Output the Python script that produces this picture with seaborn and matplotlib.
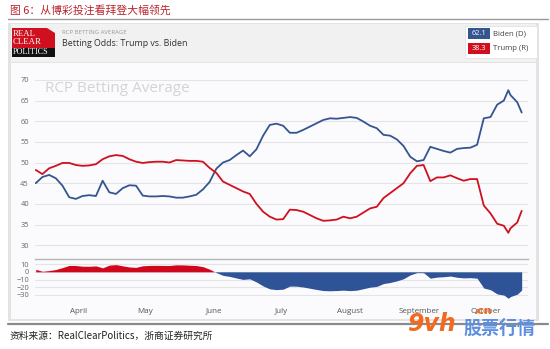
import pandas as pd
import matplotlib
matplotlib.use("Agg")
import matplotlib.pyplot as plt
from matplotlib.patches import Rectangle, Polygon
import seaborn as sns

# RCP betting average, sampled every few days (percent chance of winning)
dates = [
    "2020-03-13", "2020-03-16", "2020-03-19", "2020-03-22", "2020-03-25", "2020-03-28",
    "2020-03-31", "2020-04-03", "2020-04-06", "2020-04-09", "2020-04-12", "2020-04-15",
    "2020-04-18", "2020-04-21", "2020-04-24", "2020-04-27", "2020-04-30", "2020-05-03",
    "2020-05-06", "2020-05-09", "2020-05-12", "2020-05-15", "2020-05-18", "2020-05-21",
    "2020-05-24", "2020-05-27", "2020-05-30", "2020-06-02", "2020-06-05", "2020-06-08",
    "2020-06-11", "2020-06-14", "2020-06-17", "2020-06-20", "2020-06-23", "2020-06-26",
    "2020-06-29", "2020-07-02", "2020-07-05", "2020-07-08", "2020-07-11", "2020-07-14",
    "2020-07-17", "2020-07-20", "2020-07-23", "2020-07-26", "2020-07-29", "2020-08-01",
    "2020-08-04", "2020-08-07", "2020-08-10", "2020-08-13", "2020-08-16", "2020-08-19",
    "2020-08-22", "2020-08-25", "2020-08-28", "2020-08-31", "2020-09-03", "2020-09-06",
    "2020-09-09", "2020-09-12", "2020-09-15", "2020-09-18", "2020-09-21", "2020-09-24",
    "2020-09-27", "2020-09-30", "2020-10-03", "2020-10-06", "2020-10-09", "2020-10-11",
    "2020-10-12", "2020-10-15", "2020-10-17",
]
biden = [
    45.0, 46.5, 47.0, 46.2, 44.4, 41.6, 41.2, 41.9, 42.1, 41.9, 45.6, 42.8,
    42.4, 43.8, 44.5, 44.4, 42.0, 41.8, 41.8, 41.9, 41.8, 41.5, 41.5, 41.8,
    42.2, 43.5, 45.3, 48.5, 50.0, 50.6, 51.8, 52.9, 51.5, 53.2, 56.5, 59.1,
    59.4, 58.9, 57.2, 57.2, 57.9, 58.7, 59.5, 60.3, 60.7, 60.6, 60.8, 61.0,
    60.8, 59.9, 58.9, 58.3, 56.7, 56.5, 55.6, 54.0, 51.4, 50.3, 50.6, 53.8,
    53.3, 52.8, 52.4, 53.3, 53.5, 53.6, 54.3, 60.7, 61.0, 64.0, 65.0, 67.5,
    66.3, 64.6, 62.1,
]
trump = [
    48.2, 47.2, 48.6, 49.2, 49.9, 49.9, 49.4, 49.2, 49.3, 49.6, 50.8, 51.5,
    51.8, 51.6, 50.8, 50.2, 49.9, 50.1, 50.2, 50.2, 50.0, 50.6, 50.5, 50.4,
    50.4, 50.2, 48.7, 47.5, 45.4, 44.6, 43.8, 43.0, 42.4, 40.0, 38.1, 36.9,
    36.2, 36.3, 38.6, 38.5, 38.1, 37.3, 36.5, 35.9, 36.0, 36.2, 36.9, 36.5,
    36.9, 37.9, 38.9, 39.3, 41.4, 42.6, 43.8, 45.0, 47.4, 49.2, 49.4, 45.5,
    46.4, 46.4, 46.9, 46.2, 45.6, 46.0, 46.0, 39.6, 37.7, 35.2, 34.7, 33.0,
    34.1, 35.5, 38.3,
]
month_starts = ["2020-04-01", "2020-05-01", "2020-06-01", "2020-07-01",
                "2020-08-01", "2020-09-01", "2020-10-01"]
month_labels = ["April", "May", "June", "July", "August", "September", "October"]
main_ticks = [30, 35, 40, 45, 50, 55, 60, 65, 70]
spread_ticks = [10, 0, -10, -20, -30]

BLUE = "#34558f"
RED = "#d0101e"
AREA_BLUE = "#2e5396"
AREA_RED = "#d0071a"
GRID = "#e4e4e8"
TICK = "#666666"

df = pd.DataFrame({"date": pd.to_datetime(dates), "Biden": biden, "Trump": trump})
df["spread"] = df["Trump"] - df["Biden"]

sns.set_theme(style="white")
plt.rcParams["font.family"] = ["Open Sans", "Noto Sans CJK SC", "DejaVu Sans"]

W, H = 550, 349
fig = plt.figure(figsize=(W / 100, H / 100), dpi=100)
fig.patch.set_facecolor("white")


def fx(x):
    return x / W


def fy(y):
    return 1 - y / H


def frect(x0, y0, x1, y1, z=-5, **kw):
    fig.patches.append(Rectangle((fx(x0), fy(y1)), (x1 - x0) / W, (y1 - y0) / H,
                                 transform=fig.transFigure, zorder=z, **kw))


def ftext(x, y, s, **kw):
    fig.text(fx(x), fy(y), s, **kw)


# header title and separators
ftext(10, 10, "图 6：从博彩投注看拜登大幅领先", fontsize=7.8, color="#b8232b",
      va="center", ha="left", family=["Noto Sans CJK SC", "DejaVu Sans"])
fig.add_artist(plt.Line2D([fx(8), fx(548)], [fy(18.5), fy(18.5)], color="#9a9a9a", lw=1.0,
                          transform=fig.transFigure))
fig.add_artist(plt.Line2D([fx(8), fx(548)], [fy(324), fy(324)], color="#8a8a8a", lw=1.6,
                          transform=fig.transFigure))

# chart panel
frect(8, 23, 539, 321, z=-6, facecolor="#e3e3e3", edgecolor="none")
frect(11, 24, 536, 62, z=-5, facecolor="#f1f1f1", edgecolor="none")
frect(11, 63, 536, 319, z=-5, facecolor="#fbfbfd", edgecolor="none")

# logo
fig.patches.append(Polygon([(fx(12), fy(28)), (fx(47), fy(28)), (fx(55), fy(33)),
                            (fx(55), fy(48)), (fx(12), fy(48))],
                           closed=True, transform=fig.transFigure, facecolor="#d0101e",
                           edgecolor="none", zorder=2))
frect(12, 48, 55, 56.5, z=2, facecolor="#111111", edgecolor="none")
logo_font = ["Liberation Serif", "DejaVu Serif"]
ftext(13, 34, "REAL", fontsize=6.3, color="white", va="center", family=logo_font)
ftext(13, 41.5, "CLEAR", fontsize=6.3, color="white", va="center", family=logo_font)
ftext(13, 52.5, "POLITICS", fontsize=5.9, color="white", va="center", family=logo_font)

ftext(62, 32.5, "RCP BETTING AVERAGE", fontsize=4.3, color="#9a9a9a", va="center")
ftext(62, 43.5, "Betting Odds: Trump vs. Biden", fontsize=6.4, color="#333333", va="center")

# latest-value legend
frect(465, 26, 537, 58, z=2, facecolor="white", edgecolor="#e2e2e2", linewidth=0.6)
frect(468, 28, 490, 39, z=3, facecolor=BLUE, edgecolor="none")
frect(468, 43, 490, 54, z=3, facecolor=RED, edgecolor="none")
ftext(479, 33.7, f"{df['Biden'].iloc[-1]:.1f}", fontsize=5.3, color="white",
      ha="center", va="center", zorder=4)
ftext(479, 48.7, f"{df['Trump'].iloc[-1]:.1f}", fontsize=5.3, color="white",
      ha="center", va="center", zorder=4)
ftext(493, 33.7, "Biden (D)", fontsize=5.6, color="#444444", va="center")
ftext(493, 48.7, "Trump (R)", fontsize=5.6, color="#444444", va="center")

# axes
x0 = pd.Timestamp("2020-03-12 16:00")
x1 = pd.Timestamp("2020-10-19 20:00")
L, R = 35, 528
ax = fig.add_axes([fx(L), fy(258), (R - L) / W, (258 - 65) / H])
ax2 = fig.add_axes([fx(L), fy(300), (R - L) / W, (300 - 259) / H], sharex=ax)

for a in (ax, ax2):
    a.set_facecolor("none")
    for s in a.spines.values():
        s.set_visible(False)
    a.tick_params(axis="both", length=0, labelsize=5.4, labelcolor=TICK, pad=4.3)
    a.set_xlabel("")
    a.set_ylabel("")

# main lines
sns.lineplot(data=df, x="date", y="Biden", ax=ax, color=BLUE, lw=1.3)
sns.lineplot(data=df, x="date", y="Trump", ax=ax, color=RED, lw=1.3)
ax.set_xlim(x0, x1)
ax.set_ylim(26.9, 73.6)
ax.set_yticks(main_ticks)
ax.yaxis.grid(True, color=GRID, lw=0.8)
ax.set_axisbelow(True)
ax.tick_params(axis="x", labelbottom=False)
ax.set_xlabel("")
ax.set_ylabel("")
ax.text(fx(45), fy(89), "RCP Betting Average", transform=fig.transFigure,
        fontsize=11, color="#d3d3d8", va="center", ha="left", zorder=0)

# spread area (Trump minus Biden)
sns.lineplot(data=df, x="date", y="spread", ax=ax2, color="none", lw=0)
ax2.fill_between(df["date"], df["spread"], 0, where=df["spread"] >= 0,
                 interpolate=True, color=AREA_RED, lw=0)
ax2.fill_between(df["date"], df["spread"], 0, where=df["spread"] <= 0,
                 interpolate=True, color=AREA_BLUE, lw=0)
ax2.set_ylim(-36.7, 16.7)
ax2.set_yticks(spread_ticks)
ax2.yaxis.grid(True, color=GRID, lw=0.8)
ax2.set_axisbelow(True)
ax2.spines["top"].set_visible(True)
ax2.spines["top"].set_color("#b5b5b5")
ax2.spines["top"].set_linewidth(1.0)
ax2.set_xticks(pd.to_datetime(month_starts))
ax2.set_xticklabels(month_labels)
ax2.tick_params(axis="x", labelsize=5.8, labelcolor="#555555", pad=5.5)
ax2.tick_params(axis="y", labelsize=5.4, pad=4.3)
ax2.set_xlim(x0, x1)
ax2.set_xlabel("")
ax2.set_ylabel("")

# source line
ftext(10, 336, "资料来源：RealClearPolitics，浙商证券研究所", fontsize=7, color="#222222",
      va="center", ha="left", family=["Noto Sans CJK SC", "DejaVu Sans"])

# site mark
ftext(407, 324, "9vh", fontsize=17, color="#f26a1e", fontweight="bold", style="italic",
      va="center", ha="left", family=["DejaVu Sans"], zorder=6)
ftext(474, 311, ".cn", fontsize=8, color="#f26a1e", fontweight="bold",
      va="center", ha="left", family=["DejaVu Sans"], zorder=6)
ftext(463, 328, "股票行情", fontsize=13, color="#5d8ee0", fontweight="bold",
      va="center", ha="left", family=["Noto Sans CJK SC", "DejaVu Sans"], zorder=6)

fig.savefig("out.png", dpi=100)
